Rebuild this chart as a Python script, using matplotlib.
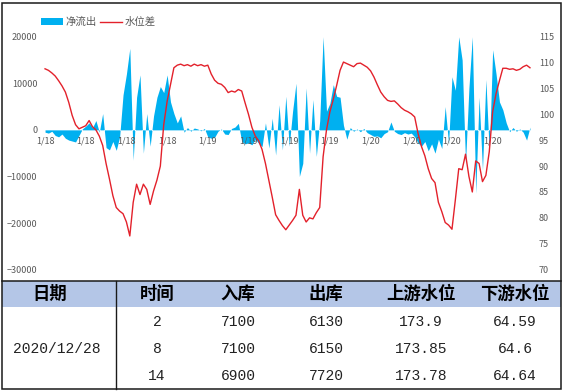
import matplotlib
matplotlib.use('Agg')
import matplotlib.pyplot as plt
from matplotlib.patches import Rectangle, Patch
from matplotlib.lines import Line2D

plt.rcParams['font.family'] = ['Noto Sans CJK SC', 'DejaVu Sans']

# ---------------- data ----------------
x_labels = ['1/18', '1/18', '1/18', '1/18',
            '1/19', '1/19', '1/19', '1/19',
            '1/20', '1/20', '1/20', '1/20']

net_outflow = [
    -500, -700, -300, -1200, -1500, -900, -1800, -2200, -2400, -2600,
    -1200, 200, 800, 1500, 500, 2000, -500, 3500, -3800, -4300,
    -2500, -4400, -1500, 7500, 12000, 17500, -6500, 7000, 11800, -5000,
    3500, -3500, 3000, 7000, 9300, 8000, 11800, 6000, 3500, 1500,
    3000, -500, 500, -300, 400, 200, -200, 300, -1500, -1800,
    -1600, -300, 200, -900, -1000, 300, 600, 1400, -2500, -3000,
    -2800, -3200, -2000, -2900, -3600, 1500, -3900, 2500, -5400, 5400,
    -4300, 7200, -3500, 4000, 10000, -10000, -7200, 9000, -5000, 6500,
    -5700, 2000, 20000, 4000, 5700, 9700, 7200, 7000, 1000, -2000,
    500, -300, 200, -400, 300, -600, -1000, -1400, -1300, -1700,
    -800, -400, 1700, -300, -800, -1000, -600, -900, -700, -1500,
    -2800, -3500, -2500, -4500, -3000, -5000, -2000, -4000, 5000, -3000,
    11400, 8500, 20000, 15000, -7100, 9000, 20000, -13600, 7000, -8600,
    10800, -5000, 17200, 12000, 6000, 4300, 1500, -400, 500, -300,
    200, -500, -2200, 600]

water_diff = [
    108.8, 108.5, 108.0, 107.4, 106.5, 105.5, 104.3, 102.3, 99.8, 98.0,
    97.2, 97.5, 97.8, 98.8, 97.6, 97.0, 95.8, 94.0, 90.5, 87.5,
    84.3, 82.0, 81.3, 80.8, 79.2, 76.5, 83.0, 86.5, 84.5, 86.5,
    85.5, 82.6, 85.2, 87.3, 90.0, 98.0, 102.5, 105.8, 109.0, 109.5,
    109.7, 109.4, 109.6, 109.3, 109.7, 109.4, 109.6, 109.3, 109.5, 107.8,
    106.6, 106.0, 105.8, 105.2, 104.2, 104.5, 104.3, 104.8, 104.5, 102.2,
    100.0, 97.5, 95.8, 94.9, 93.2, 90.5, 87.3, 84.0, 80.6, 79.5,
    78.5, 77.7, 78.6, 79.5, 80.5, 85.5, 80.5, 79.2, 80.0, 79.8,
    81.0, 82.0, 91.8, 97.0, 100.5, 102.9, 105.6, 108.5, 110.1, 109.8,
    109.5, 109.2, 109.8, 109.9, 109.5, 109.1, 108.4, 107.2, 105.7, 104.3,
    103.4, 102.7, 102.5, 102.6, 102.0, 101.3, 100.8, 100.5, 100.1, 99.5,
    96.3, 93.8, 92.0, 89.5, 87.6, 86.8, 83.0, 81.2, 79.1, 78.6,
    77.8, 83.5, 89.5, 89.3, 92.3, 88.0, 85.0, 91.0, 90.5, 87.0,
    88.2, 92.8, 100.5, 104.0, 106.5, 108.9, 108.9, 108.7, 108.8, 108.5,
    108.7, 109.2, 109.5, 109.0]

series_names = ['净流出', '水位差']

table_header = ['日期', '时间', '入库', '出库', '上游水位', '下游水位']
table_date = '2020/12/28'
times = ['2', '8', '14']
inflow = ['7100', '7100', '6900']
outflow = ['6130', '6150', '7720']
upstream = ['173.9', '173.85', '173.78']
downstream = ['64.59', '64.6', '64.64']

# ---------------- figure ----------------
W, H = 564, 392
fig = plt.figure(figsize=(W / 100, H / 100), dpi=100)


def fx(px):
    return px / W


def fy(py):
    return 1 - py / H


BLUE = '#00B0F0'
RED = '#E3212B'
GRAY = '#595959'

n = len(net_outflow)
xs = list(range(n))

ax = fig.add_axes([fx(43), fy(269.6), fx(532) - fx(43), fy(36.7) - fy(269.6)])
ax.fill_between(xs, 0, net_outflow, color=BLUE, lw=0)
ax.set_xlim(-0.6, n - 1 + 0.6)
ax.set_ylim(-30000, 20000)
ax.set_yticks(range(-30000, 20001, 10000))
for s in ax.spines.values():
    s.set_visible(False)
ax.spines['bottom'].set_position(('data', 0))
ax.set_xticks(range(0, 12 * len(x_labels), 12))
ax.set_xticklabels(x_labels)
ax.tick_params(axis='y', length=0, pad=4, labelsize=6.5, labelcolor=GRAY)
ax.tick_params(axis='x', length=0, pad=5, labelsize=6.5, labelcolor=GRAY)

ax2 = ax.twinx()
ax2.plot(xs, water_diff, color=RED, lw=1.0)
ax2.set_ylim(70, 115)
ax2.set_yticks(range(70, 116, 5))
for s in ax2.spines.values():
    s.set_visible(False)
ax2.tick_params(axis='y', length=0, pad=5, labelsize=6.5, labelcolor=GRAY)

handles = [Patch(facecolor=BLUE, edgecolor='none'), Line2D([], [], color=RED, lw=1.0)]
fig.legend(handles, series_names, ncol=2, loc='upper left',
           bbox_to_anchor=(fx(41), fy(17)), frameon=False, fontsize=7.5,
           labelcolor=GRAY, handlelength=2.1, handletextpad=0.3,
           columnspacing=0.25, borderpad=0, borderaxespad=0)

# ---------------- table & frame ----------------
fig.add_artist(Rectangle((fx(2), fy(307)), fx(561) - fx(2), fy(281) - fy(307),
                         transform=fig.transFigure, facecolor='#B4C6E7',
                         edgecolor='none'))
fig.add_artist(Rectangle((fx(2), fy(388.5)), fx(561) - fx(2), fy(2.5) - fy(388.5),
                         transform=fig.transFigure, fill=False,
                         edgecolor='#1a1a1a', lw=1.1))
fig.add_artist(Line2D([fx(2), fx(561)], [fy(280.5), fy(280.5)],
                      transform=fig.transFigure, color='#1a1a1a', lw=1.1))
fig.add_artist(Line2D([fx(116), fx(116)], [fy(280.5), fy(388.5)],
                      transform=fig.transFigure, color='#1a1a1a', lw=1.0))

col_x = [50, 157, 238, 326, 421, 515]
for cx, t in zip(col_x, table_header):
    fig.text(fx(cx), fy(294), t, ha='center', va='center', fontsize=12.5,
             fontweight='bold', color='black')

row_y = [322, 349, 376]
num_font = ['Liberation Mono', 'DejaVu Sans']
fig.text(fx(57), fy(349), table_date, ha='center', va='center',
         fontsize=10.5, family=num_font, color='#222222')
for i, ry in enumerate(row_y):
    vals = [times[i], inflow[i], outflow[i], upstream[i], downstream[i]]
    for cx, v in zip(col_x[1:], vals):
        fig.text(fx(cx), fy(ry), v, ha='center', va='center', fontsize=10.5,
                 family=num_font, color='#222222')

fig.savefig('out.png', dpi=100)
